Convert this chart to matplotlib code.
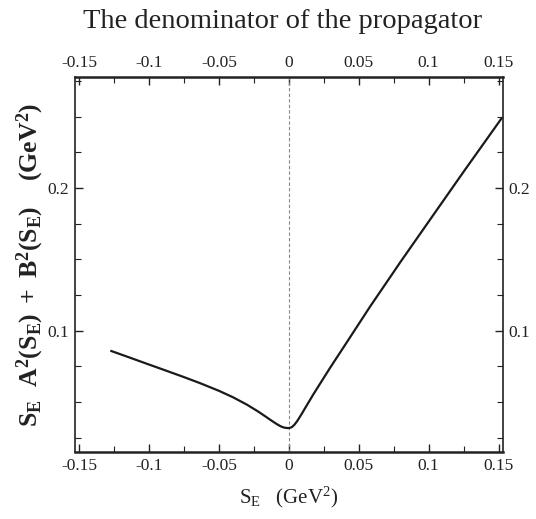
import matplotlib
matplotlib.use('Agg')
import matplotlib.pyplot as plt
from matplotlib.ticker import MultipleLocator

plt.rcParams['font.family'] = 'Liberation Serif'
plt.rcParams['mathtext.fontset'] = 'custom'
plt.rcParams['mathtext.rm'] = 'Liberation Serif'
plt.rcParams['mathtext.it'] = 'Liberation Serif'
plt.rcParams['mathtext.bf'] = 'Liberation Serif:bold'

# S_E (GeV^2) and S_E A^2 + B^2 (GeV^2)
s_e = [-0.127, -0.115, -0.100, -0.0874, -0.075, -0.0636, -0.050, -0.040, -0.030,
       -0.022, -0.017, -0.013, -0.009, -0.006, -0.004, -0.002, 0.000,
       0.002, 0.004, 0.006, 0.009, 0.013, 0.0174, 0.0293, 0.0412, 0.0579,
       0.080, 0.1007, 0.125, 0.152]
denom = [0.0858, 0.0816, 0.0763, 0.0719, 0.0675, 0.0633, 0.0579, 0.0534, 0.0482,
         0.0434, 0.0401, 0.0374, 0.0348, 0.0331, 0.0323, 0.0319, 0.0318,
         0.0324, 0.0342, 0.0368, 0.0415, 0.0481, 0.0553, 0.0738, 0.0916, 0.1167,
         0.1485, 0.1775, 0.2115, 0.2487]

x_ticks = [-0.15, -0.1, -0.05, 0, 0.05, 0.1, 0.15]
x_ticklabels = ['-0.15', '-0.1', '-0.05', '0', '0.05', '0.1', '0.15']
y_ticks = [0.1, 0.2]
y_ticklabels = ['0.1', '0.2']

fig = plt.figure(figsize=(5.36, 5.19), dpi=100)
ax = fig.add_axes([0.140, 0.129, 0.798, 0.723])

ax.axvline(0, color='#888888', lw=0.8, ls=(0, (3, 2)))
ax.plot(s_e, denom, color='#1a1a1a', lw=1.6)

ax.set_xlim(-0.153, 0.153)
ax.set_ylim(0.015, 0.278)

ax.set_xticks(x_ticks)
ax.set_xticklabels(x_ticklabels)
ax.xaxis.set_minor_locator(MultipleLocator(0.025))
ax.set_yticks(y_ticks)
ax.set_yticklabels(y_ticklabels)
ax.yaxis.set_minor_locator(MultipleLocator(0.025))

ax.tick_params(which='both', direction='in', top=True, right=True,
               labeltop=True, labelright=True, labelsize=12.5, colors='#222222')
ax.tick_params(which='major', length=6, width=1.0, pad=4)
ax.tick_params(which='minor', length=4, width=0.8)
for sp in ax.spines.values():
    sp.set_linewidth(1.2)
    sp.set_color('#222222')
ax.spines['top'].set_linewidth(1.8)
ax.spines['bottom'].set_linewidth(1.8)

fig.text(0.528, 0.958, 'The denominator of the propagator', ha='center', va='center',
         fontsize=20.5, color='#222222')
ax.set_xlabel(r'S$_\mathrm{E}$   (GeV$^2$)', fontsize=15, color='#222222', labelpad=8)
ax.set_ylabel(r'$\mathbf{S_E\ \ A^2(S_E)\ +\ B^2(S_E)}$    $\mathbf{(GeV^2)}$',
              fontsize=18.5, color='#222222', labelpad=1)

fig.savefig('out.png', dpi=100)
